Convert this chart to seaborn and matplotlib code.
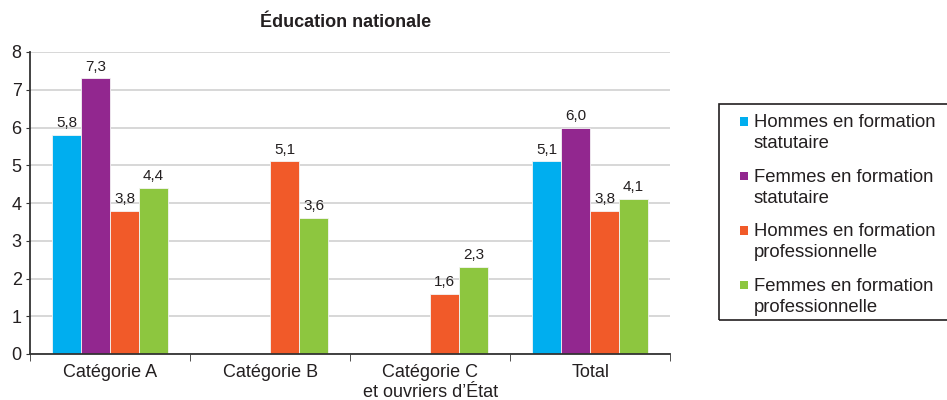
import matplotlib
matplotlib.use("Agg")
import matplotlib.pyplot as plt
from matplotlib.patches import Rectangle
from matplotlib.legend_handler import HandlerPatch
import seaborn as sns
import pandas as pd
import numpy as np

# Data
categories = ["Catégorie A", "Catégorie B", "Catégorie C\net ouvriers d\u2019État", "Total"]
series = ["Hommes en formation\nstatutaire", "Femmes en formation\nstatutaire",
          "Hommes en formation\nprofessionnelle", "Femmes en formation\nprofessionnelle"]
hommes_statutaire = [5.8, np.nan, np.nan, 5.1]
femmes_statutaire = [7.3, np.nan, np.nan, 6.0]
hommes_pro = [3.8, 5.1, 1.6, 3.8]
femmes_pro = [4.4, 3.6, 2.3, 4.1]
colors = ["#00AEEF", "#92278F", "#F15A29", "#8DC63F"]

rows = []
for s, vals in zip(series, [hommes_statutaire, femmes_statutaire, hommes_pro, femmes_pro]):
    for c, v in zip(categories, vals):
        rows.append({"categorie": c, "serie": s, "valeur": v})
df = pd.DataFrame(rows)

sns.set_style("white")
plt.rcParams["font.family"] = ["Liberation Sans", "DejaVu Sans"]
TXT = "#231f20"

fig = plt.figure(figsize=(9.47, 4.0), dpi=100)
ax = fig.add_axes([0.0317, 0.115, 0.676, 0.755])

sns.barplot(data=df, x="categorie", y="valeur", hue="serie", order=categories,
            hue_order=series, palette=colors, width=0.725, saturation=1,
            edgecolor="#f4f4f4", linewidth=0.6, ax=ax)

# value labels with French decimal comma
for cont in ax.containers:
    labels = ["" if np.isnan(v) else f"{v:.1f}".replace(".", ",") for v in cont.datavalues]
    ax.bar_label(cont, labels=labels, padding=3.5, fontsize=11, color=TXT)

ax.set_ylim(0, 8)
ax.set_xlim(-0.5, 3.5)
ax.set_yticks(range(0, 9))
ax.yaxis.grid(True, color="#d4d4d4", linewidth=1.3)
ax.set_axisbelow(True)
ax.tick_params(axis="y", labelsize=13, length=3, left=True, color="#333333", pad=3,
               labelcolor=TXT)
ax.set_xticks(range(4))
ax.set_xticklabels(categories, fontsize=13, linespacing=1.25, color=TXT)
ax.tick_params(axis="x", length=0, pad=7)
ax.set_xticks([-0.5, 0.5, 1.5, 2.5, 3.5], minor=True)
ax.tick_params(axis="x", which="minor", length=5, bottom=True, color="#333333")
ax.set_xlabel("")
ax.set_ylabel("")
for side in ["top", "right"]:
    ax.spines[side].set_visible(False)
for side in ["left", "bottom"]:
    ax.spines[side].set_color("#333333")
    ax.spines[side].set_linewidth(1.3)

fig.text(0.365, 0.943, "Éducation nationale", ha="center", va="center",
         fontsize=13, fontweight="bold", color=TXT)


# legend: small square aligned with the first line of each label
def top_square(legend, orig_handle, xdescent, ydescent, width, height, fontsize):
    size = 0.45 * fontsize
    return Rectangle((-xdescent + width - size, -ydescent + (height - size) / 2 + 0.64 * fontsize),
                     size, size)


handles, labels = ax.get_legend_handles_labels()
leg = ax.legend(handles, labels, loc="upper left",
                bbox_to_anchor=(730 / 947, 1 - 114 / 400), bbox_transform=fig.transFigure,
                frameon=False, fontsize=13.3, labelcolor=TXT,
                handlelength=1.0, handleheight=0.7, handletextpad=0.3,
                labelspacing=0.88, borderpad=0, borderaxespad=0,
                handler_map={h: HandlerPatch(patch_func=top_square) for h in handles})
for t in leg.get_texts():
    t.set_linespacing(1.33)
for h in leg.legend_handles:
    h.set_edgecolor("none")

fig.add_artist(Rectangle((719 / 947, 1 - 320 / 400), 0.3, 216 / 400,
                         transform=fig.transFigure, fill=False,
                         edgecolor=TXT, linewidth=1.2, clip_on=False))

plt.savefig("out.png", dpi=100)
plt.close()
